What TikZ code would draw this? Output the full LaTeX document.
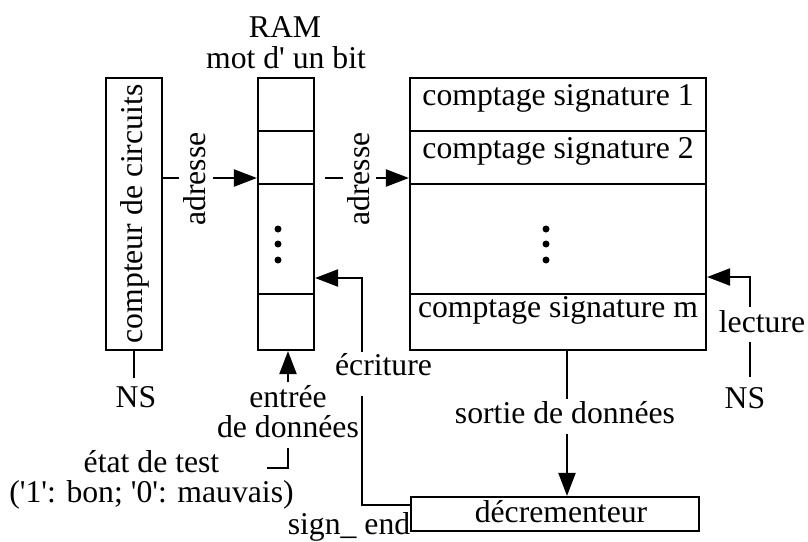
\documentclass[tikz,border=0pt]{standalone}
\usepackage{fontspec}
\setmainfont{Liberation Serif}
\usetikzlibrary{arrows.meta}
\newcommand{\sq}{\textquotesingle}
\begin{document}
\begin{tikzpicture}[x=0.5pt,y=-0.5pt,
  lw/.style={line width=1.1pt},
  box/.style={draw, lw, inner sep=0pt, rectangle},
  fnt/.style={font=\fontsize{15.85pt}{15pt}\selectfont, inner sep=0pt},
  txt/.style={fnt, anchor=base},
  conn/.style={lw, -{Triangle[length=11.5pt,width=8.5pt]}},
  plain/.style={lw},
]
\useasboundingbox (0,0) rectangle (808,541);
% boxes
\node[box, minimum width=28pt, minimum height=136pt] (cnt) at (134,214) {};
\node[fnt, rotate=90] (cntt) at (134.5,214) {compteur de circuits};
\node[box, minimum width=28pt, minimum height=136pt] (ram) at (286,214) {};
\node[box, minimum width=148pt, minimum height=136pt] (mem) at (558,214) {};
\node[box, minimum width=144pt, minimum height=17pt] (dec) at (555,514) {};
% dividers
\foreach \yy in {131,184,294}{
  \draw[plain] (ram.west |- 0,\yy) -- (ram.east |- 0,\yy);
  \draw[plain] (mem.west |- 0,\yy) -- (mem.east |- 0,\yy);
}
% dots
\foreach \yy in {229,244,260}{
  \fill (278,\yy) circle (1.75pt);
  \fill (546,\yy) circle (1.75pt);
}
% titles and row texts
\node[txt] (ramt) at (285,37) {RAM};
\node[txt] (ramt2) at (286,68) {mot d\sq{} un bit};
\node[txt] (s1) at (558,105) {comptage signature 1};
\node[txt] (s2) at (558,158) {comptage signature 2};
\node[txt] (sm) at (558,317) {comptage signature m};
\node[txt] (dect) at (561,522) {décrementeur};
% labels
\node[txt] (nsl) at (136,407) {NS};
\node[txt] (nsr) at (745,408) {NS};
\node[txt] (lect) at (762,332) {lecture};
\node[txt] (sort) at (565,423) {sortie de données};
\node[txt] (ecr) at (383.5,375) {écriture};
\node[txt] (ent1) at (288,407) {entrée};
\node[txt] (ent2) at (288,437) {de données};
\node[txt] (etat1) at (151.5,472) {état de test};
\node[txt] (etat2) at (151.5,502) {(\sq1\sq: bon; \sq0\sq: mauvais)};
\node[txt] (sgn) at (349,534) {sign\_ end};
\node[fnt, rotate=90] (adr1) at (195,179) {adresse};
\node[fnt, rotate=90] (adr2) at (358.5,179) {adresse};
% coordinates
\coordinate (nslt) at (134,378);
\coordinate (nsrt) at (750,377);
\coordinate (entb) at (288,382);
\coordinate (etc1) at (288,448);
\coordinate (etc2) at (267,468);
% connectors
\draw[conn, dash pattern=on 8pt off 17pt on 100pt] (cnt.east |- 0,178) -- (ram.west |- 0,178);
\draw[conn, dash pattern=on 0pt off 5pt on 9pt off 16.5pt on 100pt] (ram.east |- 0,178) -- (mem.west |- 0,178);
\draw[plain] (cnt.south) -- (nslt);
\draw[conn, dash pattern=on 17.5pt off 17.5pt on 200pt] (nsrt) -- (nsrt |- 0,277) -- (mem.east |- 0,277);
\draw[conn, dash pattern=on 24pt off 17.5pt on 200pt] (mem.south -| 567,0) -- (dec.north -| 567,0);
\draw[conn, dash pattern=on 78.5pt off 22pt on 300pt] (dec.west |- 0,505) -- (362,505) -- (362,278) -- (ram.east |- 0,278);
\draw[conn] (entb) -- (ram.south -| entb);
\draw[plain] (etc1) |- (etc2);
\end{tikzpicture}
\end{document}
